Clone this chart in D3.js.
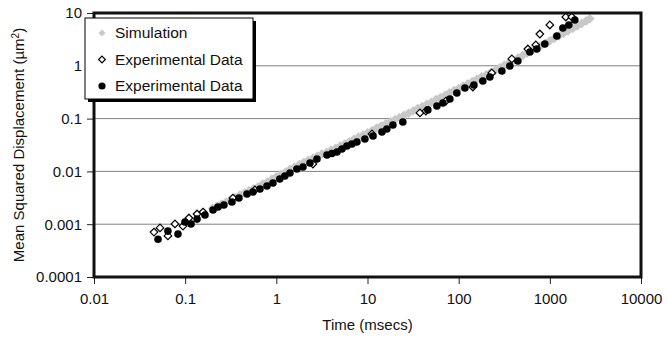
<!DOCTYPE html>
<html>
<head>
<meta charset="utf-8">
<script src="https://cdn.jsdelivr.net/npm/d3@7"></script>
<style>
  body { margin: 0; background: #fff; }
  svg { display: block; font-family: Arial, "Liberation Sans", sans-serif; }
</style>
</head>
<body>
<div id="chart"></div>
<script>
// simulation (grey diamonds), read along the band
const simTime = [0.200,0.224,0.251,0.282,0.316,0.355,0.398,0.447,0.501,0.562,0.631,0.708,0.794,0.891,
  1.00,1.12,1.26,1.41,1.58,1.78,2.00,2.24,2.51,2.82,3.16,3.55,3.98,4.47,5.01,5.62,6.31,7.08,7.94,8.91,
  10.0,11.2,12.6,14.1,15.8,17.8,20.0,22.4,25.1,28.2,31.6,35.5,39.8,44.7,50.1,56.2,63.1,70.8,79.4,89.1,
  100,112,126,141,158,178,200,224,251,282,316,355,398,447,501,562,631,708,794,891,
  1000,1120,1260,1410,1580,1780,2000,2240,2510,2750];
const simMsd = [0.00200,0.00219,0.00240,0.00263,0.00288,0.00316,0.00355,0.00389,0.00427,0.00468,0.00513,0.00575,0.00631,0.00708,
  0.00794,0.00871,0.00977,0.0110,0.0120,0.0135,0.0148,0.0162,0.0178,0.0195,0.0214,0.0229,0.0251,0.0275,0.0302,0.0331,0.0363,0.0407,0.0447,0.0490,
  0.0537,0.0589,0.0661,0.0724,0.0794,0.0871,0.0955,0.105,0.115,0.126,0.139,0.155,0.170,0.186,0.204,0.229,0.251,0.275,0.309,0.339,
  0.372,0.412,0.457,0.501,0.556,0.617,0.676,0.748,0.826,0.912,1.02,1.13,1.26,1.40,1.56,1.74,1.93,2.15,2.39,2.67,
  2.97,3.31,3.69,4.11,4.58,5.11,5.70,6.35,7.10,7.76];

// experimental data, open diamonds
const openTime = [0.0455,0.0530,0.0647,0.0773,0.0946,0.110,0.135,0.157,0.334,0.582,2.52,11.2,37.6,43.7,72.4,143,231,383,574,702,777,1000,1497,1742];
const openMsd  = [0.00071,0.00085,0.00060,0.00101,0.00092,0.00131,0.00156,0.00170,0.00313,0.00445,0.0138,0.0511,0.128,0.139,0.215,0.397,0.731,1.35,2.08,2.48,4.0,5.93,8.40,8.40];

// experimental data, filled circles
const filledTime = [0.0504,0.0647,0.0834,0.0995,0.116,0.135,0.165,0.202,0.229,0.266,0.326,0.389,0.477,0.553,0.661,0.789,0.918,
  1.09,1.24,1.41,1.68,1.96,2.34,2.79,3.59,4.07,4.62,5.24,5.94,6.75,7.65,9.36,11.5,14.4,16.3,19.0,24.4,
  45.9,57.7,67.1,80.1,95.5,117,147,184,220,298,364,446,604,720,881,1194,1390,1615,1880];
const filledMsd = [0.00052,0.00074,0.00065,0.0011,0.00101,0.00125,0.00149,0.00186,0.00212,0.00231,0.00263,0.00313,0.00373,0.00407,0.00464,0.00528,0.00603,
  0.00718,0.00818,0.00933,0.0111,0.0121,0.0144,0.0172,0.0205,0.0218,0.0233,0.0265,0.0303,0.0330,0.0361,0.0411,0.0468,0.0557,0.0635,0.0757,0.0863,
  0.146,0.173,0.197,0.235,0.305,0.380,0.433,0.515,0.614,0.798,0.991,1.23,1.82,2.08,2.59,3.67,5.20,5.93,7.37];

const xTicks = [0.01, 0.1, 1, 10, 100, 1000, 10000];
const xTickLabels = ["0.01", "0.1", "1", "10", "100", "1000", "10000"];
const yTicks = [0.0001, 0.001, 0.01, 0.1, 1, 10];
const yTickLabels = ["0.0001", "0.001", "0.01", "0.1", "1", "10"];
const legendLabels = ["Simulation", "Experimental Data", "Experimental Data"];

const width = 667, height = 347;
const margin = { top: 13, right: 26, bottom: 70, left: 94 };

const svg = d3.select('#chart').append('svg')
  .attr('width', width)
  .attr('height', height);

const x = d3.scaleLog().domain([0.01, 10000]).range([margin.left, width - margin.right]);
const y = d3.scaleLog().domain([0.0001, 10]).range([height - margin.bottom, margin.top]);

// gridlines
svg.append('g')
  .selectAll('line')
  .data(yTicks.slice(1, -1))
  .join('line')
  .attr('x1', x.range()[0]).attr('x2', x.range()[1])
  .attr('y1', d => y(d)).attr('y2', d => y(d))
  .attr('stroke', '#808080').attr('stroke-width', 1);

// axes
const yAxis = svg.append('g')
  .attr('transform', `translate(${margin.left},0)`)
  .call(d3.axisLeft(y).tickValues(yTicks).tickFormat((d, i) => yTickLabels[i]).tickSize(7).tickPadding(5));
const xAxis = svg.append('g')
  .attr('transform', `translate(0,${height - margin.bottom})`)
  .call(d3.axisBottom(x).tickValues(xTicks).tickFormat((d, i) => xTickLabels[i]).tickSize(7).tickPadding(9));
[xAxis, yAxis].forEach(a => {
  a.select('.domain').remove();
  a.selectAll('text').attr('font-size', 15).attr('fill', '#111').attr('font-family', 'Arial, "Liberation Sans", sans-serif');
  a.selectAll('line').attr('stroke', '#222');
});

// axis titles
svg.append('text')
  .attr('x', (x.range()[0] + x.range()[1]) / 2)
  .attr('y', 330)
  .attr('text-anchor', 'middle')
  .attr('font-size', 15)
  .attr('fill', '#111')
  .text('Time (msecs)');

svg.append('text')
  .attr('transform', `translate(24,${(y.range()[0] + y.range()[1]) / 2}) rotate(-90)`)
  .attr('text-anchor', 'middle')
  .attr('font-size', 15)
  .attr('fill', '#111')
  .text('Mean Squared Displacement  (\u00b5m')
  .append('tspan').attr('baseline-shift', 'super').attr('font-size', 10).text('2')
  .select(function () { return this.parentNode; })
  .append('tspan').text(')');

const diamond = r => `M0,${-r}L${r},0L0,${r}L${-r},0Z`;

// simulation
svg.append('g')
  .selectAll('path')
  .data(simTime.map((t, i) => [t, simMsd[i]]))
  .join('path')
  .attr('transform', d => `translate(${x(d[0])},${y(d[1])})`)
  .attr('d', diamond(4.8))
  .attr('fill', '#c8c8c8');

// open diamonds
svg.append('g')
  .selectAll('path')
  .data(openTime.map((t, i) => [t, openMsd[i]]))
  .join('path')
  .attr('transform', d => `translate(${x(d[0])},${y(d[1])})`)
  .attr('d', diamond(3.8))
  .attr('fill', '#fff')
  .attr('stroke', '#000')
  .attr('stroke-width', 1.2);

// filled circles
svg.append('g')
  .selectAll('circle')
  .data(filledTime.map((t, i) => [t, filledMsd[i]]))
  .join('circle')
  .attr('cx', d => x(d[0]))
  .attr('cy', d => y(d[1]))
  .attr('r', 3.8)
  .attr('fill', '#000');

// plot frame
svg.append('rect')
  .attr('x', x.range()[0]).attr('y', y.range()[1])
  .attr('width', x.range()[1] - x.range()[0])
  .attr('height', y.range()[0] - y.range()[1])
  .attr('fill', 'none')
  .attr('stroke', '#111')
  .attr('stroke-width', 3);

// legend
const lg = svg.append('g').attr('transform', 'translate(85,18)');
lg.append('rect').attr('x', 3).attr('y', 3).attr('width', 168).attr('height', 81).attr('fill', '#000');
lg.append('rect').attr('width', 168).attr('height', 81).attr('fill', '#fff').attr('stroke', '#000').attr('stroke-width', 1);
const rows = [15, 41.5, 68];
lg.append('path').attr('transform', `translate(17,${rows[0]})`).attr('d', diamond(3.4)).attr('fill', '#c8c8c8');
lg.append('path').attr('transform', `translate(17,${rows[1]})`).attr('d', diamond(3.4)).attr('fill', '#fff').attr('stroke', '#000').attr('stroke-width', 1.2);
lg.append('circle').attr('cx', 17).attr('cy', rows[2]).attr('r', 3.6).attr('fill', '#000');
lg.selectAll('text.lbl')
  .data(legendLabels)
  .join('text')
  .attr('class', 'lbl')
  .attr('x', 30)
  .attr('y', (d, i) => rows[i])
  .attr('dy', '0.35em')
  .attr('font-size', 15.5)
  .attr('fill', '#111')
  .text(d => d);
</script>
</body>
</html>
